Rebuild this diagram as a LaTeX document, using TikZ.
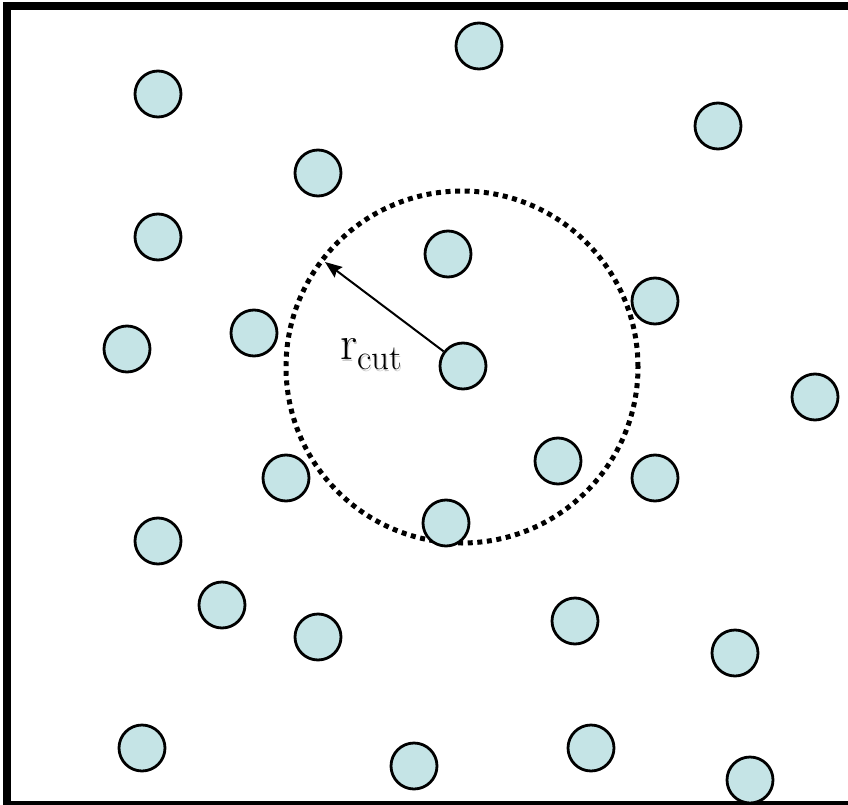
\documentclass[tikz,border=0pt]{standalone}
\usepackage{fontspec}
\usepackage{tikz}
\usetikzlibrary{arrows.meta}

\definecolor{ballfill}{RGB}{197,228,230}

\newcommand{\rcutlabel}{r\raisebox{-10pt}{\fontsize{35}{38}\selectfont cut}}

\begin{document}
\begin{tikzpicture}[x=1pt,y=-1pt]
    \tikzset{>={Stealth[length=17pt,width=13pt,inset=2.5pt]}}
    \tikzset{ball/.style={circle, draw, line width=2.8pt, fill=ballfill,
                          minimum size=46pt, inner sep=0pt}}
    \tikzset{label text/.style={anchor=base west, inner sep=0pt,
                                font=\fontsize{48}{52}\selectfont}}

    \useasboundingbox (0,0) rectangle (848,805);

    % Draw the box (right side runs off the page)
    \begin{scope}
      \clip (0,0) rectangle (848,805);
      \draw[line width=8pt] (7,6.5) rectangle (870,805);
    \end{scope}

    % Draw the cutoff sphere
    \draw[line width=5pt, dash pattern=on 5pt off 4.6pt] (462,367) circle[radius=176pt];

    % Draw the particles
    \foreach \x/\y [count=\i] in {479/46, 158/94, 718/126, 318/173, 158/237,
        448/254, 655/301, 254/333, 127/349, 463/366, 815/397, 558/461,
        286/478, 655/478, 446/523, 158/541, 222/605, 318/637, 575/621,
        735/653, 142/748, 414/766, 591/748, 750/780}
      \node[ball] (p\i) at (\x,\y) {};

    % Radius arrow
    \coordinate (rim) at (325,262);
    \draw[->, line width=2pt] (p10) -- (rim);

    \node[label text, text=black!22] at (341.5,361) {\rcutlabel};
    \node[label text] (rcut) at (340,359.5) {\rcutlabel};
  \end{tikzpicture}
\end{document}
